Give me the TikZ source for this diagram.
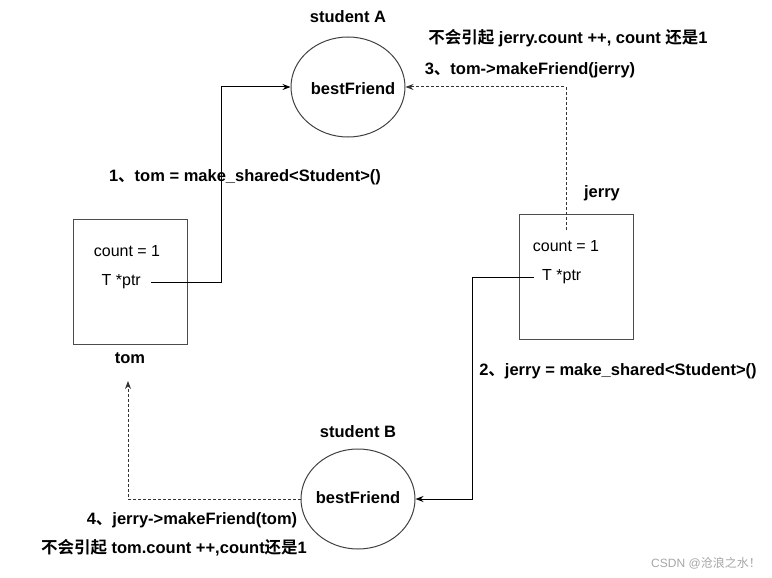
\documentclass[tikz,border=0pt]{standalone}
\usepackage{fontspec}
\setmainfont{Liberation Sans}
\newfontfamily\cjk{Noto Sans CJK SC}[BoldFont={Noto Sans CJK SC Bold}]
\usetikzlibrary{shapes.geometric,arrows.meta}
\begin{document}
\begin{tikzpicture}[x=1pt,y=-1pt,
  lbl/.style={font=\fontsize{16.5}{18}\selectfont\bfseries, inner sep=0pt},
  txt/.style={font=\fontsize{16}{18}\selectfont, inner sep=0pt},
  obj/.style={draw=black!75, line width=1pt, ellipse, minimum width=114pt, minimum height=100pt, inner sep=0pt},
  box/.style={draw=black!70, line width=1pt, rectangle, minimum width=114pt, minimum height=125pt, inner sep=0pt},
  conn/.style={draw=black, line width=1pt, -{Stealth[length=8pt,width=6pt]}},
  dconn/.style={draw=black!80, line width=1pt, dash pattern=on 3pt off 2pt, -{Stealth[length=8pt,width=6pt]}}]
\useasboundingbox (0,0) rectangle (772,578);
% student A
\node[obj] (A) at (348,87) {};
\node[lbl] (Abf) at (353,89) {bestFriend};
\node[lbl] (Alab) at (348,17) {student A};
% student B
\node[obj] (B) at (358,499) {};
\node[lbl] (Bbf) at (358,498) {bestFriend};
\node[lbl] (Blab) at (358,432) {student B};
% tom
\node[box] (tom) at (130,282) {};
\node[txt] (tomc) at (127,251) {count = 1};
\node[txt, anchor=east] (tomp) at (141,282) {T *ptr};
\node[lbl] (toml) at (130,358) {tom};
% jerry
\node[box] (jerry) at (576,276.5) {};
\node[txt] (jerc) at (566,246) {count = 1};
\node[txt, anchor=west] (jerp) at (542,277) {T *ptr};
\node[lbl] (jerl) at (602,193) {jerry};
% labels
\node[lbl] (l1) at (245,177) {1{\cjk 、}tom = make\_shared<Student>()};
\node[lbl] (l2) at (618,371) {2{\cjk 、}jerry = make\_shared<Student>()};
\node[lbl] (l3) at (530,70) {3{\cjk 、}tom->makeFriend(jerry)};
\node[lbl] (l3b) at (568,38) {{\cjk 不会引起} jerry.count ++, count {\cjk 还是}1};
\node[lbl] (l4) at (192,520) {4{\cjk 、}jerry->makeFriend(tom)};
\node[lbl] (l4b) at (174,548) {{\cjk 不会引起} tom.count ++,count{\cjk 还是}1};
\node[font=\fontsize{12}{14}\selectfont, text=black!35, inner sep=0pt] (wm) at (706,563) {CSDN @{\cjk 沧浪之水！}};
% coordinates
\coordinate (p1) at (151,282);
\coordinate (c1) at (221,282);
\coordinate (c2) at (221,87);
\coordinate (p2) at (534,277);
\coordinate (c3) at (472,277);
\coordinate (c4) at (472,499);
\coordinate (p3) at (566,230);
\coordinate (c5) at (566,87);
\coordinate (c6) at (128,499);
\coordinate (t4) at (128,381);
% connectors
\draw[conn] (p1) -- (c1) -- (c2) -- (A.west);
\draw[conn] (p2) -- (c3) -- (c4) -- (B.east);
\draw[dconn] (p3) -- (c5) -- (A.east);
\draw[dconn] (B.west) -- (c6) -- (t4);
\end{tikzpicture}
\end{document}
